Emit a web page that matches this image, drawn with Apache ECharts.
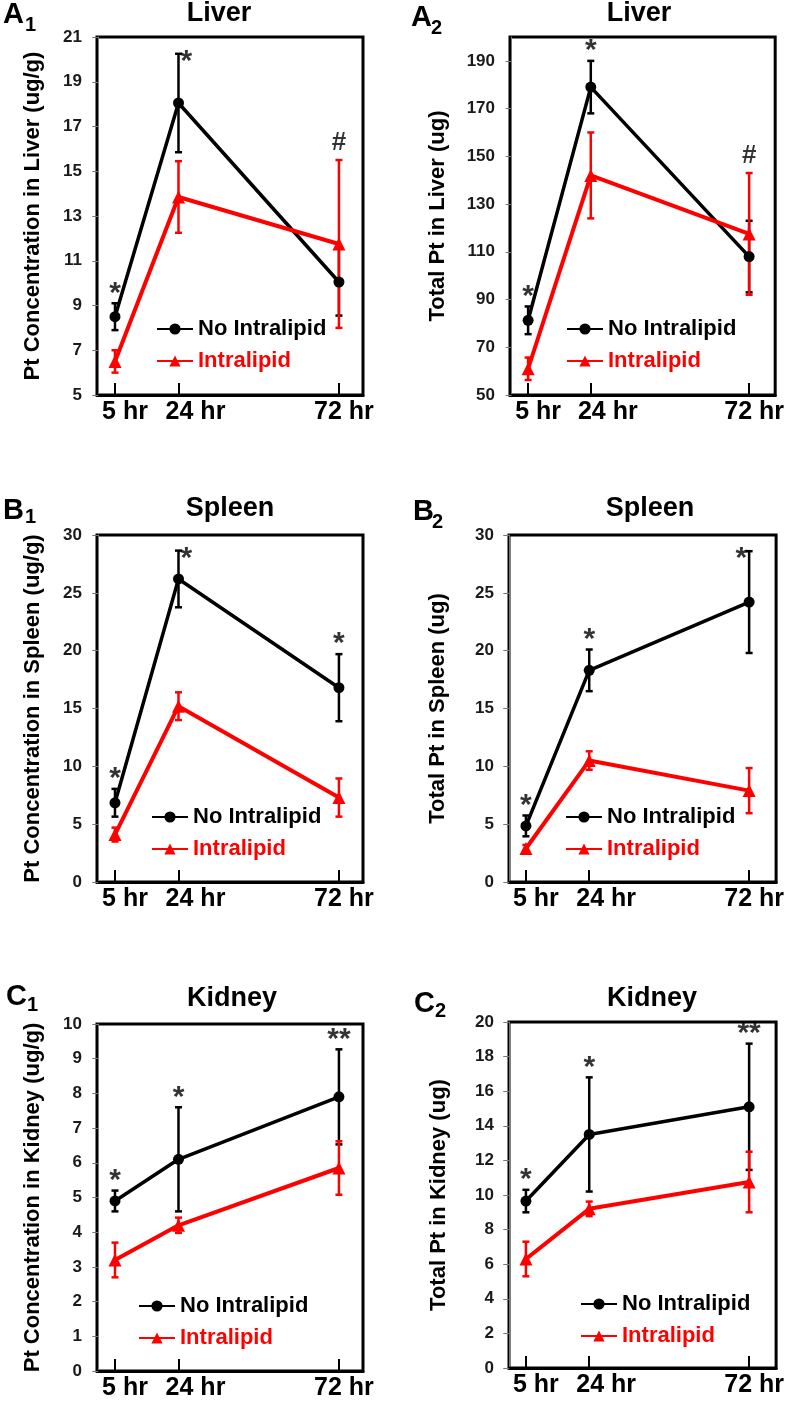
<!DOCTYPE html>
<html>
<head>
<meta charset="utf-8">
<script src="https://cdn.jsdelivr.net/npm/echarts@6/dist/echarts.min.js"></script>
<style>
html, body { margin: 0; padding: 0; background: #fff; }
#main { width: 787px; height: 1401px; }
</style>
</head>
<body>
<div id="main"></div>
<script>
var hours = [5, 24, 72];
var hourLabels = ['5 hr', '24 hr', '72 hr'];
var seriesNames = ['No Intralipid', 'Intralipid'];

// A1 - liver concentration (ug/g)
var liverConcNo = [8.5, 18.05, 10.05];
var liverConcNoErr = [0.6, 2.2, 1.5];
var liverConcIn = [6.5, 13.85, 11.75];
var liverConcInErr = [0.5, 1.6, 3.75];
var liverConcSig = ['*', '*', '#'];
var liverConcTicks = [5, 7, 9, 11, 13, 15, 17, 19, 21];

// A2 - total Pt in liver (ug)
var liverTotalNo = [81.3, 179, 108];
var liverTotalNoErr = [5.8, 11, 15];
var liverTotalIn = [61, 142, 117.5];
var liverTotalInErr = [4.7, 18, 25.5];
var liverTotalSig = ['*', '*', '#'];
var liverTotalTicks = [50, 70, 90, 110, 130, 150, 170, 190];

// B1 - spleen concentration (ug/g)
var spleenConcNo = [6.85, 26.2, 16.8];
var spleenConcNoErr = [1.2, 2.45, 2.9];
var spleenConcIn = [4.1, 15.2, 7.3];
var spleenConcInErr = [0.6, 1.2, 1.65];
var spleenConcSig = ['*', '*', '*'];
var spleenConcTicks = [0, 5, 10, 15, 20, 25, 30];

// B2 - total Pt in spleen (ug)
var spleenTotalNo = [4.85, 18.3, 24.2];
var spleenTotalNoErr = [0.9, 1.8, 4.4];
var spleenTotalIn = [2.9, 10.5, 7.9];
var spleenTotalInErr = [0.3, 0.8, 1.95];
var spleenTotalSig = ['*', '*', '*'];
var spleenTotalTicks = [0, 5, 10, 15, 20, 25, 30];

// C1 - kidney concentration (ug/g)
var kidneyConcNo = [4.9, 6.1, 7.9];
var kidneyConcNoErr = [0.3, 1.5, 1.37];
var kidneyConcIn = [3.2, 4.2, 5.85];
var kidneyConcInErr = [0.5, 0.22, 0.77];
var kidneyConcSig = ['*', '*', '**'];
var kidneyConcTicks = [0, 1, 2, 3, 4, 5, 6, 7, 8, 9, 10];

// C2 - total Pt in kidney (ug)
var kidneyTotalNo = [9.65, 13.5, 15.1];
var kidneyTotalNoErr = [0.65, 3.3, 3.65];
var kidneyTotalIn = [6.3, 9.2, 10.75];
var kidneyTotalInErr = [1.0, 0.42, 1.75];
var kidneyTotalSig = ['*', '*', '**'];
var kidneyTotalTicks = [0, 2, 4, 6, 8, 10, 12, 14, 16, 18, 20];

var panels = [
  {letter: 'A', sub: '1', title: 'Liver', yName: 'Pt Concentration in Liver (ug/g)', yMin: 5, yMax: 21, ticks: liverConcTicks,
   no: liverConcNo, noErr: liverConcNoErr, intra: liverConcIn, intraErr: liverConcInErr, sig: liverConcSig},
  {letter: 'A', sub: '2', title: 'Liver', yName: 'Total Pt in Liver (ug)', yMin: 50, yMax: 200, ticks: liverTotalTicks,
   no: liverTotalNo, noErr: liverTotalNoErr, intra: liverTotalIn, intraErr: liverTotalInErr, sig: liverTotalSig},
  {letter: 'B', sub: '1', title: 'Spleen', yName: 'Pt Concentration in Spleen (ug/g)', yMin: 0, yMax: 30, ticks: spleenConcTicks,
   no: spleenConcNo, noErr: spleenConcNoErr, intra: spleenConcIn, intraErr: spleenConcInErr, sig: spleenConcSig},
  {letter: 'B', sub: '2', title: 'Spleen', yName: 'Total Pt in Spleen (ug)', yMin: 0, yMax: 30, ticks: spleenTotalTicks,
   no: spleenTotalNo, noErr: spleenTotalNoErr, intra: spleenTotalIn, intraErr: spleenTotalInErr, sig: spleenTotalSig},
  {letter: 'C', sub: '1', title: 'Kidney', yName: 'Pt Concentration in Kidney (ug/g)', yMin: 0, yMax: 10, ticks: kidneyConcTicks,
   no: kidneyConcNo, noErr: kidneyConcNoErr, intra: kidneyConcIn, intraErr: kidneyConcInErr, sig: kidneyConcSig},
  {letter: 'C', sub: '2', title: 'Kidney', yName: 'Total Pt in Kidney (ug)', yMin: 0, yMax: 20, ticks: kidneyTotalTicks,
   no: kidneyTotalNo, noErr: kidneyTotalNoErr, intra: kidneyTotalIn, intraErr: kidneyTotalInErr, sig: kidneyTotalSig}
];

// layout of each panel (pixels)
var layouts = [
  {left: 97, top: 37, width: 266, height: 358, xMin: -0.38, xMax: 79.2, nameGap: 53,
   titleX: 219, titleY: 14, letterX: 3, letterY: 15, subX: 25, subY: 25, legendX: 156, legendY: 318,
   sigPos: ['top', 'right', 'top']},
  {left: 510, top: 37, width: 268, height: 358, xMin: -0.49, xMax: 79.9, nameGap: 61,
   titleX: 639, titleY: 14, letterX: 411, letterY: 18, subX: 431, subY: 28, legendX: 566, legendY: 318,
   sigPos: ['top', 'top', 'top']},
  {left: 97, top: 535, width: 266, height: 347, xMin: -0.38, xMax: 79.2, nameGap: 53,
   titleX: 230, titleY: 509, letterX: 3, letterY: 511, subX: 25, subY: 517, legendX: 151, legendY: 806,
   sigPos: ['top', 'right', 'top']},
  {left: 509, top: 535, width: 268, height: 347, xMin: -0.08, xMax: 80.1, nameGap: 60,
   titleX: 650, titleY: 509, letterX: 413, letterY: 512, subX: 432, subY: 522, legendX: 565, legendY: 806,
   sigPos: ['top', 'top', 'left']},
  {left: 97, top: 1024, width: 266, height: 347, xMin: -0.38, xMax: 79.2, nameGap: 53,
   titleX: 232, titleY: 999, letterX: 6, letterY: 997, subX: 27, subY: 1005, legendX: 138, legendY: 1295,
   sigPos: ['top', 'top', 'top']},
  {left: 509, top: 1022, width: 268, height: 346, xMin: -0.08, xMax: 80.1, nameGap: 59,
   titleX: 652, titleY: 999, letterX: 414, letterY: 1004, subX: 435, subY: 1011, legendX: 580, legendY: 1293,
   sigPos: ['top', 'top', 'top']}
];

var labelShift = [10, 17, 5];
var FONT = '"Liberation Sans", Arial, sans-serif';
var BLACK = '#000000';
var RED = '#FF0000';

function errorBarRender(color, width) {
  return function (params, api) {
    var x = api.value(0);
    var lo = api.coord([x, api.value(1)]);
    var hi = api.coord([x, api.value(2)]);
    var cap = 3.5;
    var style = {stroke: color, lineWidth: width};
    return {
      type: 'group',
      children: [
        {type: 'line', shape: {x1: lo[0], y1: lo[1], x2: hi[0], y2: hi[1]}, style: style},
        {type: 'line', shape: {x1: lo[0] - cap, y1: lo[1], x2: lo[0] + cap, y2: lo[1]}, style: style},
        {type: 'line', shape: {x1: hi[0] - cap, y1: hi[1], x2: hi[0] + cap, y2: hi[1]}, style: style}
      ]
    };
  };
}

var option = {
  animation: false,
  backgroundColor: '#ffffff',
  grid: [], xAxis: [], yAxis: [], legend: [], series: [], graphic: []
};

panels.forEach(function (p, i) {
  var L = layouts[i];

  option.grid.push({
    left: L.left, top: L.top, width: L.width, height: L.height,
    show: true, borderColor: BLACK, borderWidth: 3
  });

  var rich = {};
  labelShift.forEach(function (s, k) {
    rich['s' + k] = {fontSize: 25, fontWeight: 'bold', fontFamily: FONT, color: BLACK, padding: [0, 0, 0, 2 * s]};
  });

  option.xAxis.push({
    gridIndex: i, type: 'value', min: L.xMin, max: L.xMax,
    axisLine: {show: true, onZero: false, lineStyle: {color: BLACK, width: 3}},
    axisTick: {show: true, inside: true, length: 12, customValues: hours, lineStyle: {color: BLACK, width: 2}},
    axisLabel: {
      customValues: hours, margin: 5, fontSize: 25, fontWeight: 'bold', fontFamily: FONT, color: BLACK,
      formatter: function (v) {
        var k = hours.indexOf(v);
        return '{s' + k + '|' + hourLabels[k] + '}';
      },
      rich: rich
    },
    splitLine: {show: false}
  });

  option.yAxis.push({
    gridIndex: i, type: 'value', min: p.yMin, max: p.yMax,
    name: p.yName, nameLocation: 'middle', nameRotate: 90, nameGap: L.nameGap,
    nameTextStyle: {fontSize: 22, fontWeight: 'bold', fontFamily: FONT, color: BLACK},
    axisLine: {show: true, lineStyle: {color: '#777777', width: 1}},
    axisTick: {show: true, length: 6, customValues: p.ticks, lineStyle: {color: '#777777', width: 1}},
    axisLabel: {customValues: p.ticks, margin: 15, fontSize: 17, fontWeight: 'bold', fontFamily: FONT, color: '#1a1a1a'},
    splitLine: {show: false}
  });

  option.legend.push({
    left: L.legendX, top: L.legendY, orient: 'vertical', padding: 0,
    itemWidth: 36, itemHeight: 14, itemGap: 10,
    textStyle: {fontSize: 22, fontWeight: 'bold', fontFamily: FONT},
    data: [
      {name: seriesNames[0], textStyle: {color: BLACK}},
      {name: seriesNames[1], textStyle: {color: RED}}
    ]
  });

  var errNo = hours.map(function (h, k) { return [h, p.no[k] - p.noErr[k], p.no[k] + p.noErr[k]]; });
  var errIn = hours.map(function (h, k) { return [h, p.intra[k] - p.intraErr[k], p.intra[k] + p.intraErr[k]]; });

  option.series.push({
    type: 'custom', name: 'errNo' + i, xAxisIndex: i, yAxisIndex: i, z: 2, silent: true,
    renderItem: errorBarRender(BLACK, 2.5), encode: {x: 0, y: [1, 2]}, data: errNo
  });
  option.series.push({
    type: 'custom', name: 'errIn' + i, xAxisIndex: i, yAxisIndex: i, z: 3, silent: true,
    renderItem: errorBarRender(RED, 2.5), encode: {x: 0, y: [1, 2]}, data: errIn
  });
  option.series.push({
    type: 'line', name: seriesNames[0], xAxisIndex: i, yAxisIndex: i, z: 4,
    data: hours.map(function (h, k) { return [h, p.no[k]]; }),
    symbol: 'circle', symbolSize: 11, showAllSymbol: true,
    itemStyle: {color: BLACK}, lineStyle: {color: BLACK, width: 3.5}
  });
  option.series.push({
    type: 'line', name: seriesNames[1], xAxisIndex: i, yAxisIndex: i, z: 5,
    data: hours.map(function (h, k) { return [h, p.intra[k]]; }),
    symbol: 'triangle', symbolSize: 13, showAllSymbol: true,
    itemStyle: {color: RED}, lineStyle: {color: RED, width: 4}
  });

  // significance marks sit above the highest error bar at each time point
  option.series.push({
    type: 'scatter', name: 'sig' + i, xAxisIndex: i, yAxisIndex: i, z: 6, silent: true,
    symbolSize: 0,
    data: hours.map(function (h, k) {
      var top = Math.max(p.no[k] + p.noErr[k], p.intra[k] + p.intraErr[k]);
      var pos = L.sigPos[k];
      var isHash = p.sig[k] === '#';
      return {
        value: [h, top],
        label: {
          show: true, position: pos, formatter: p.sig[k],
          distance: pos === 'top' ? (isHash ? 4 : -5) : 2,
          offset: pos === 'top' ? [0, 0] : [0, 8],
          fontSize: isHash ? 26 : 30, fontWeight: 'bold',
          fontFamily: FONT, color: BLACK
        }
      };
    })
  });

  option.graphic.push({
    type: 'text', x: L.titleX, y: L.titleY,
    style: {text: p.title, fontSize: 27, fontWeight: 'bold', fontFamily: FONT, fill: BLACK, align: 'center', verticalAlign: 'middle'}
  });
  option.graphic.push({
    type: 'text', x: L.letterX, y: L.letterY,
    style: {text: p.letter, fontSize: 29, fontWeight: 'bold', fontFamily: FONT, fill: BLACK, align: 'left', verticalAlign: 'middle'}
  });
  option.graphic.push({
    type: 'text', x: L.subX, y: L.subY,
    style: {text: p.sub, fontSize: 20, fontWeight: 'bold', fontFamily: FONT, fill: BLACK, align: 'left', verticalAlign: 'middle'}
  });
});

var chart = echarts.init(document.getElementById('main'), null, {renderer: 'canvas'});
chart.setOption(option);
</script>
</body>
</html>
